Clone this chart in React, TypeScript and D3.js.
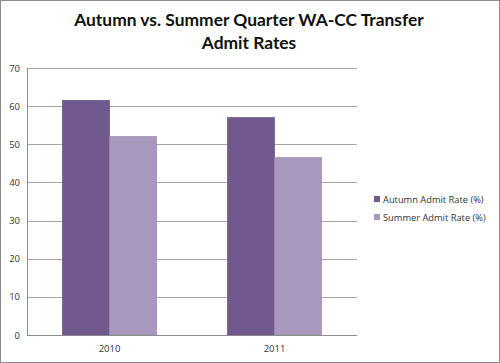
import * as d3 from "d3";
import { useEffect, useRef } from "react";

const years = ["2010", "2011"];
const seriesNames = ["Autumn Admit Rate (%)", "Summer Admit Rate (%)"];
const autumnRates = [61.5, 57.0];
const summerRates = [52.0, 46.5];
const yTicks = [0, 10, 20, 30, 40, 50, 60, 70];
const colors = ["#71598e", "#a898bd"];

export default function App() {
  const ref = useRef<SVGSVGElement>(null);

  useEffect(() => {
    const width = 500;
    const height = 363;
    const svg = d3.select(ref.current);
    svg.selectAll("*").remove();

    // chart frame
    svg.append("rect")
      .attr("x", 0.5).attr("y", 0.5)
      .attr("width", width - 1).attr("height", height - 1)
      .attr("fill", "white")
      .attr("stroke", "#8c8c8c");

    const left = 27, right = 357, top = 68, bottom = 335;

    const y = d3.scaleLinear().domain([0, 70]).range([bottom, top]);
    const x0 = d3.scaleBand().domain(years).range([left, right])
      .paddingInner(0.43).paddingOuter(0.215);
    const x1 = d3.scaleBand().domain(seriesNames).range([0, x0.bandwidth()]);

    // gridlines
    svg.append("g").selectAll("line")
      .data(yTicks.filter(t => t > 0))
      .enter().append("line")
      .attr("x1", left).attr("x2", right)
      .attr("y1", d => Math.round(y(d)) + 0.5)
      .attr("y2", d => Math.round(y(d)) + 0.5)
      .attr("stroke", "#a6a6a6");

    // y labels
    svg.append("g").selectAll("text")
      .data(yTicks)
      .enter().append("text")
      .attr("x", 20)
      .attr("y", d => y(d) + 3.5)
      .attr("text-anchor", "end")
      .attr("font-family", "'Open Sans', sans-serif")
      .attr("font-size", 9.5)
      .attr("fill", "#333")
      .text(d => d);

    const rows = years.map((yr, i) => ({ year: yr, values: [autumnRates[i], summerRates[i]] }));

    const groups = svg.append("g").selectAll("g")
      .data(rows)
      .enter().append("g")
      .attr("transform", d => `translate(${x0(d.year)},0)`);

    groups.selectAll("rect")
      .data(d => d.values.map((v, j) => ({ name: seriesNames[j], value: v, j })))
      .enter().append("rect")
      .attr("x", d => x1(d.name)!)
      .attr("y", d => y(d.value))
      .attr("width", x1.bandwidth())
      .attr("height", d => bottom - y(d.value))
      .attr("fill", d => colors[d.j])
      .attr("stroke", d => d3.color(colors[d.j])!.darker(0.3).toString())
      .attr("stroke-width", 0.7);

    // axes
    svg.append("line")
      .attr("x1", left + 0.5).attr("x2", left + 0.5)
      .attr("y1", top).attr("y2", bottom)
      .attr("stroke", "#8c8c8c");
    svg.append("line")
      .attr("x1", left).attr("x2", right)
      .attr("y1", bottom + 0.5).attr("y2", bottom + 0.5)
      .attr("stroke", "#8c8c8c");

    // x labels
    svg.append("g").selectAll("text")
      .data(years)
      .enter().append("text")
      .attr("x", d => x0(d)! + x0.bandwidth() / 2)
      .attr("y", 352)
      .attr("text-anchor", "middle")
      .attr("font-family", "'Open Sans', sans-serif")
      .attr("font-size", 9.5)
      .attr("fill", "#333")
      .text(d => d);

    // title
    const title = svg.append("text")
      .attr("text-anchor", "middle")
      .attr("font-family", "Lato, sans-serif")
      .attr("font-weight", "bold")
      .attr("font-size", 17.4)
      .attr("fill", "#111");
    title.append("tspan").attr("x", 249).attr("y", 26).text("Autumn vs. Summer Quarter WA-CC Transfer");
    title.append("tspan").attr("x", 249).attr("y", 49).text("Admit Rates");

    // legend
    const legend = svg.append("g").selectAll("g")
      .data(seriesNames)
      .enter().append("g")
      .attr("transform", (d, i) => `translate(374,${196 + i * 18})`);
    legend.append("rect")
      .attr("width", 6).attr("height", 6)
      .attr("fill", (d, i) => colors[i]);
    legend.append("text")
      .attr("x", 9).attr("y", 6.5)
      .attr("font-family", "'Open Sans', sans-serif")
      .attr("font-size", 9.3)
      .attr("fill", "#333")
      .text(d => d);
  }, []);

  return (
    <svg ref={ref} width={500} height={363}
      style={{ position: "absolute", left: 0, top: 0, display: "block" }} />
  );
}
